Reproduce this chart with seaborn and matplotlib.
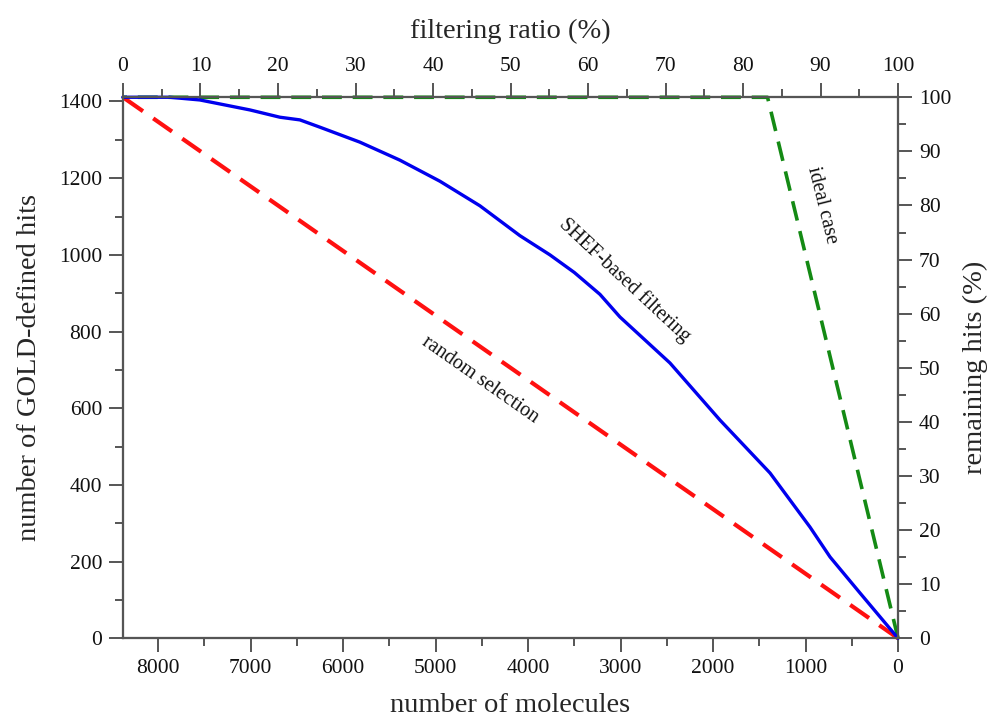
import numpy as np
import matplotlib
matplotlib.use("Agg")
import matplotlib.pyplot as plt
import seaborn as sns
from matplotlib.ticker import MultipleLocator

# data
total_molecules = 8380
total_hits = 1411

shef_molecules = [8382, 7873, 7549, 7008, 6684, 6467, 6251, 5819, 5386, 4953,
                  4521, 4088, 3764, 3500, 3223, 3007, 2466, 1925, 1384,
                  952, 735, 411, 0]
shef_hits = [1411, 1411, 1404, 1378, 1359, 1352, 1333, 1294, 1247, 1192,
             1128, 1050, 1000, 954, 897, 838, 718, 569, 431,
             290, 212, 118, 0]

random_molecules = [total_molecules, 0]
random_hits = [total_hits, 0]

ideal_molecules = [total_molecules, total_hits, 0]
ideal_hits = [total_hits, total_hits, 0]

sns.set_style("ticks")
plt.rcParams["font.family"] = ["Liberation Serif", "DejaVu Serif"]

fig = plt.figure(figsize=(9.91, 7.2), dpi=100)
ax = fig.add_axes([0.1241, 0.1135, 0.7821, 0.7514])

sns.lineplot(x=ideal_molecules, y=ideal_hits, ax=ax, color="#148a14", lw=2.6,
             linestyle=(0, (5.5, 3)), estimator=None, clip_on=False, zorder=3)
sns.lineplot(x=random_molecules, y=random_hits, ax=ax, color="#ff1010", lw=3.0,
             linestyle=(0, (5.5, 3)), estimator=None, clip_on=False, zorder=4)
sns.lineplot(x=shef_molecules, y=shef_hits, ax=ax, color="#0000ee", lw=2.4,
             estimator=None, clip_on=False, zorder=5)

ax.set_xlim(total_molecules, 0)
ax.set_ylim(0, total_hits)

# secondary scales
axt = ax.twiny()
axt.set_xlim(0, 100)
axr = ax.twinx()
axr.set_ylim(0, 100)

spine_col = "#555555"
for a in (ax, axt, axr):
    for s in a.spines.values():
        s.set_color(spine_col)
        s.set_linewidth(1.5)
    a.tick_params(which="major", length=10, width=1.4, color=spine_col,
                  labelsize=15.5, labelcolor="#111111", pad=5)
    a.tick_params(which="minor", length=6, width=1.4, color=spine_col)

ax.xaxis.set_major_locator(MultipleLocator(1000))
ax.xaxis.set_minor_locator(MultipleLocator(500))
ax.yaxis.set_major_locator(MultipleLocator(200))
ax.yaxis.set_minor_locator(MultipleLocator(100))
axt.xaxis.set_major_locator(MultipleLocator(10))
axt.xaxis.set_minor_locator(MultipleLocator(5))
axr.yaxis.set_major_locator(MultipleLocator(10))
axr.yaxis.set_minor_locator(MultipleLocator(5))

ax.set_xlabel("number of molecules", fontsize=20.5, labelpad=11)
ax.set_ylabel("number of GOLD-defined hits", fontsize=20.5, labelpad=12)
axt.set_xlabel("filtering ratio (%)", fontsize=20.5, labelpad=14)
axr.set_ylabel("remaining hits (%)", fontsize=20.5, labelpad=8)

# curve annotations
ax.text(2952, 934, "SHEF-based filtering", fontsize=14.5, rotation=-43,
        ha="center", va="center", rotation_mode="anchor", color="#111111")
ax.text(4521, 674, "random selection", fontsize=14.5, rotation=-35,
        ha="center", va="center", rotation_mode="anchor", color="#111111")
ax.text(822, 1130, "ideal case", fontsize=14.5, rotation=-76,
        ha="center", va="center", rotation_mode="anchor", color="#111111")

fig.savefig("out.png", dpi=100)
